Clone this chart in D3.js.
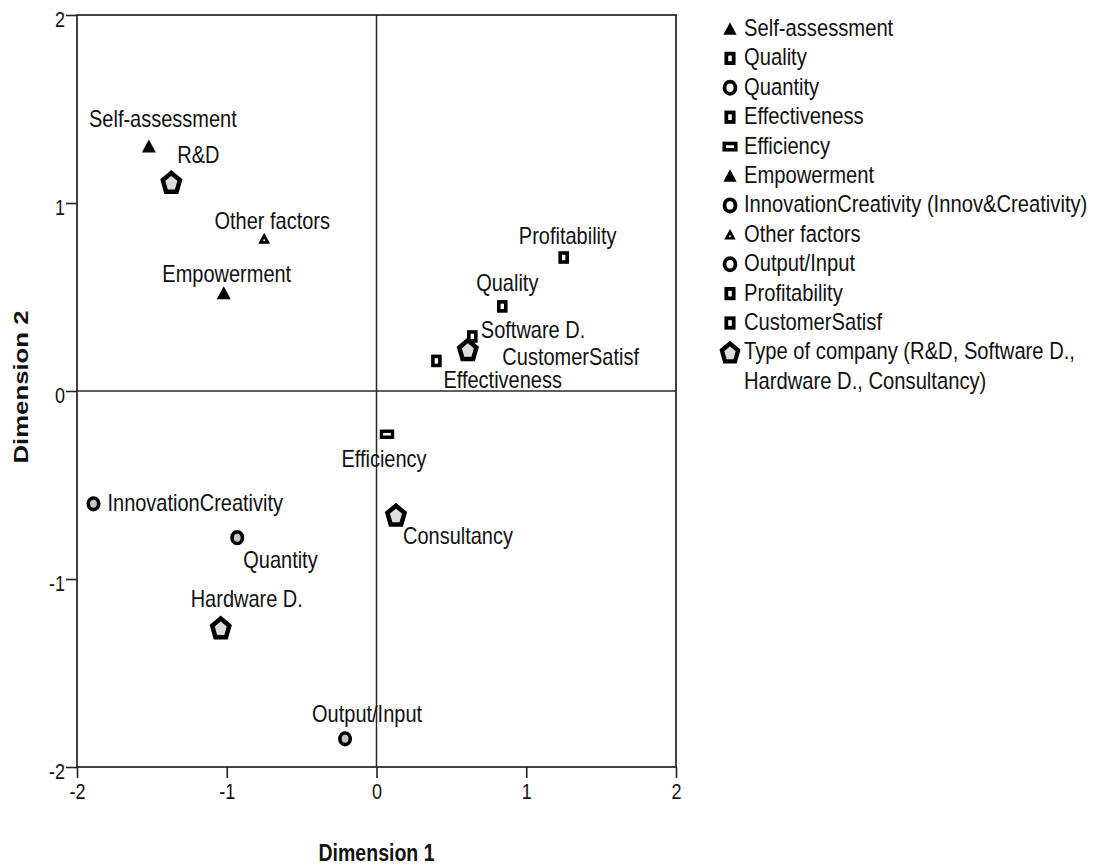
<!DOCTYPE html>
<html>
<head>
<meta charset="utf-8">
<script src="https://cdn.jsdelivr.net/npm/d3@7"></script>
<style>
  html, body { margin: 0; padding: 0; background: #fff; }
  svg { display: block; font-family: "Liberation Sans", Arial, sans-serif; }
</style>
</head>
<body>
<svg id="chart" width="1093" height="867"></svg>
<script>
// ---- data ----
const pointNames = ["Self-assessment", "Quality", "Quantity", "Effectiveness", "Efficiency",
  "Empowerment", "InnovationCreativity", "Other factors", "Output/Input", "Profitability", "CustomerSatisf"];
const pointX = [-1.52, 0.84, -0.93, 0.40, 0.07, -1.02, -1.89, -0.75, -0.21, 1.25, 0.64];
const pointY = [1.30, 0.45, -0.78, 0.16, -0.23, 0.52, -0.60, 0.81, -1.85, 0.71, 0.29];
const pointShape = ["tri", "square", "circle", "square", "rect", "tri", "circle", "smalltri", "circle", "square", "square"];

const companyNames = ["R&D", "Software D.", "Hardware D.", "Consultancy"];
const companyX = [-1.37, 0.61, -1.04, 0.13];
const companyY = [1.11, 0.22, -1.26, -0.66];

const legendLabels = ["Self-assessment", "Quality", "Quantity", "Effectiveness", "Efficiency", "Empowerment",
  "InnovationCreativity (Innov&Creativity)", "Other factors", "Output/Input", "Profitability", "CustomerSatisf",
  "Type of company (R&D, Software D.,|Hardware D., Consultancy)"];
const legendShapes = ["tri", "square", "circle", "square", "rect", "tri", "circle", "smalltri", "circle", "square", "square", "pent"];

const tickValues = [-2, -1, 0, 1, 2];
const xTitle = "Dimension 1";
const yTitle = "Dimension 2";

// ---- label placement (styling) ----
const labelStyle = {
  "Self-assessment": {a: "middle", dx: 14, dy: -20},
  "R&D": {a: "start", dx: 6, dy: -19},
  "Other factors": {a: "middle", dx: 8, dy: -10},
  "Empowerment": {a: "middle", dx: 3, dy: -11},
  "Profitability": {a: "middle", dx: 4, dy: -14},
  "Quality": {a: "middle", dx: 5, dy: -15},
  "Software D.": {a: "start", dx: 13, dy: -12},
  "CustomerSatisf": {a: "start", dx: 30, dy: 29},
  "Effectiveness": {a: "start", dx: 7, dy: 27},
  "Efficiency": {a: "middle", dx: -3, dy: 33},
  "InnovationCreativity": {a: "start", dx: 14, dy: 7},
  "Quantity": {a: "start", dx: 6, dy: 30},
  "Hardware D.": {a: "middle", dx: 26, dy: -21},
  "Consultancy": {a: "start", dx: 7, dy: 29},
  "Output/Input": {a: "middle", dx: 22, dy: -17}
};

const SY = 1.18; // vertical stretch of glyphs
const svg = d3.select("#chart");
const L = 77, R = 676, T = 15, B = 767;
const x = d3.scaleLinear().domain([-2, 2]).range([L, R]);
const y = d3.scaleLinear().domain([-2, 2]).range([B, T]);

function txt(g, tx, ty, str, anchor, size, weight) {
  return g.append("text")
    .attr("transform", `translate(${tx},${ty}) scale(1,${SY})`)
    .attr("text-anchor", anchor || "start")
    .style("font-size", size || "20px")
    .style("font-weight", weight || "normal")
    .attr("fill", "#111")
    .text(str);
}

// zero lines
svg.append("line").attr("x1", x(0)).attr("x2", x(0)).attr("y1", T).attr("y2", B)
  .attr("stroke", "#2a2a2a").attr("stroke-width", 1.5);
svg.append("line").attr("x1", L).attr("x2", R).attr("y1", y(0)).attr("y2", y(0))
  .attr("stroke", "#2a2a2a").attr("stroke-width", 1.5);

// frame
svg.append("rect").attr("x", L).attr("y", T).attr("width", R - L).attr("height", B - T)
  .attr("fill", "none").attr("stroke", "#222").attr("stroke-width", 1.7);

// axes
const fmt = d => d3.format("d")(d).replace("−", "-");
const xAxis = svg.append("g").attr("transform", `translate(0,${B})`)
  .call(d3.axisBottom(x).tickValues(tickValues).tickSize(11).tickPadding(5).tickFormat(fmt));
const yAxis = svg.append("g").attr("transform", `translate(${L},0)`)
  .call(d3.axisLeft(y).tickValues(tickValues).tickSize(11).tickPadding(1).tickFormat(fmt));
[xAxis, yAxis].forEach(g => {
  g.select(".domain").remove();
  g.selectAll(".tick line").attr("stroke", "#222").attr("stroke-width", 1.6);
  g.selectAll(".tick text").attr("fill", "#111").style("font-size", "18px")
    .style("font-family", "'Liberation Sans', Arial, sans-serif")
    .attr("transform", `scale(1,${SY})`);
});
yAxis.selectAll(".tick text").attr("dy", "0.55em");
xAxis.selectAll(".tick text").attr("y", 14).attr("dy", "0.71em");

// axis titles
txt(svg, x(0), 861, xTitle, "middle", "21px", "bold")
  .attr("textLength", 116).attr("lengthAdjust", "spacingAndGlyphs");
svg.append("text").attr("transform", `translate(28,387) rotate(-90)`).attr("text-anchor", "middle")
  .style("font-size", "21px").style("font-weight", "bold").attr("fill", "#111")
  .attr("textLength", 153).attr("lengthAdjust", "spacingAndGlyphs").text(yTitle);

// marker drawing
function pentPoints(r) {
  const pts = [];
  for (let i = 0; i < 5; i++) {
    const ang = -Math.PI / 2 + i * 2 * Math.PI / 5;
    pts.push([r * Math.cos(ang), r * Math.sin(ang) * 1.15 + 1]);
  }
  return pts.map(p => p.join(",")).join(" ");
}
function drawMarker(g, shape, cx, cy, k, inner) {
  const m = g.append("g").attr("transform", `translate(${cx},${cy}) scale(${k})`);
  if (shape === "tri") {
    m.append("polygon").attr("points", "0,-7 7,6 -7,6").attr("fill", "#000");
  } else if (shape === "smalltri") {
    m.append("polygon").attr("points", "0,-6 6,5 -6,5").attr("fill", "#000");
    m.append("circle").attr("cx", 0).attr("cy", 1.5).attr("r", 1).attr("fill", "#fff");
  } else if (shape === "square") {
    m.append("rect").attr("x", -3.5).attr("y", -4.5).attr("width", 7).attr("height", 9)
      .attr("fill", "#fff").attr("stroke", "#000").attr("stroke-width", 3.6);
  } else if (shape === "rect") {
    m.append("rect").attr("x", -5.5).attr("y", -3).attr("width", 11).attr("height", 6)
      .attr("fill", "#fff").attr("stroke", "#000").attr("stroke-width", 3.4);
  } else if (shape === "circle") {
    m.append("ellipse").attr("rx", 5.2).attr("ry", 5.8).attr("fill", inner)
      .attr("stroke", "#000").attr("stroke-width", 3.6);
  } else if (shape === "pent") {
    m.append("polygon").attr("points", pentPoints(9)).attr("fill", "#ddd")
      .attr("stroke", "#000").attr("stroke-width", 4.5).attr("stroke-linejoin", "miter");
  }
}

const plot = svg.append("g");
pointNames.forEach((n, i) => {
  drawMarker(plot, pointShape[i], x(pointX[i]), y(pointY[i]), 1, "#c4c4c4");
});
companyNames.forEach((n, i) => {
  drawMarker(plot, "pent", x(companyX[i]), y(companyY[i]), 1, "#ddd");
});

// labels
const labels = svg.append("g");
pointNames.forEach((n, i) => {
  const s = labelStyle[n];
  txt(labels, x(pointX[i]) + s.dx, y(pointY[i]) + s.dy, n, s.a, "20px");
});
companyNames.forEach((n, i) => {
  const s = labelStyle[n];
  txt(labels, x(companyX[i]) + s.dx, y(companyY[i]) + s.dy, n, s.a, "20px");
});

// legend
const leg = svg.append("g");
const legX = 730, legTextX = 744, legY0 = 29, legStep = 29.4;
legendLabels.forEach((lab, i) => {
  const cy = legY0 + i * legStep;
  const sh = legendShapes[i];
  const k = (sh === "tri" || sh === "smalltri") ? 0.95 : (sh === "pent" ? 0.95 : 1.05);
  drawMarker(leg, sh, legX, cy, k, "#fff");
  lab.split("|").forEach((ln, j) => {
    txt(leg, legTextX, cy + 7 + j * legStep, ln, "start", "20.2px");
  });
});
</script>
</body>
</html>
